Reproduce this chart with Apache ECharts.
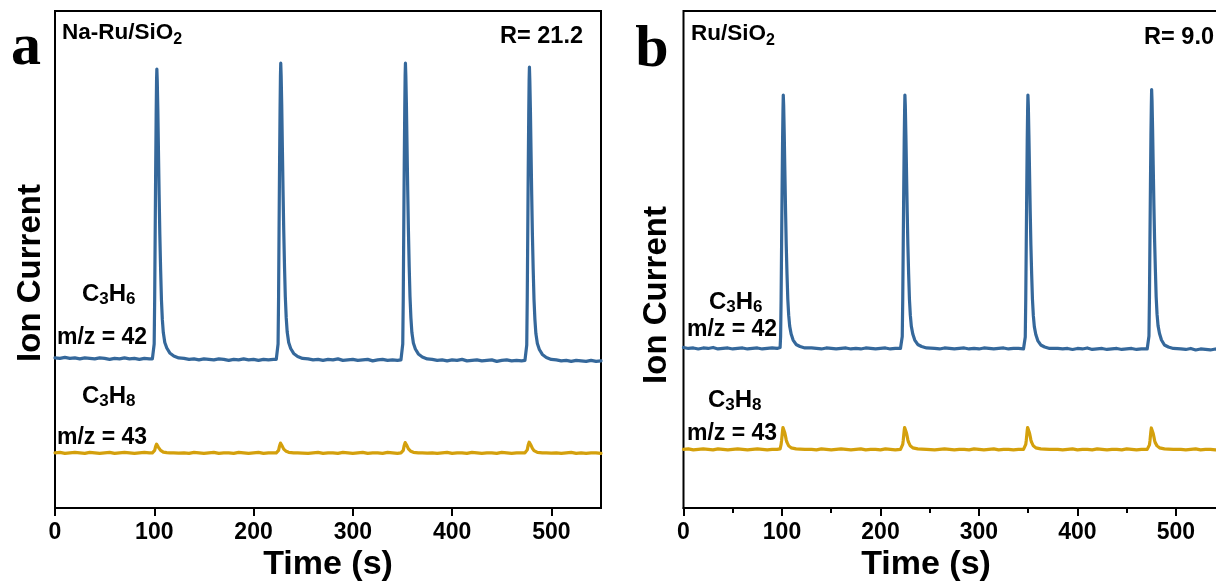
<!DOCTYPE html>
<html>
<head>
<meta charset="utf-8">
<title>Ion current traces</title>
<script src="https://cdn.jsdelivr.net/npm/echarts@6/dist/echarts.min.js"></script>
<style>
  html, body { margin: 0; padding: 0; background: #fff; }
  #chart { width: 1216px; height: 585px; }
</style>
</head>
<body>
<div id="chart"></div>
<script>
// ---- Data -------------------------------------------------------------
// Time axis tick labels (s)
const timeTicks = [0, 100, 200, 300, 400, 500];
const minorTimeTicksB = [0, 50, 100, 150, 200, 250, 300, 350, 400, 450, 500, 550];

// Panel a: Na-Ru/SiO2 — sample times (s)
const timeA = [
  0, 5, 10, 15, 20, 25, 30, 35, 40, 45, 50, 55, 60, 65, 70, 75, 80, 85, 90, 95,
  98.1, 99.4, 99.9, 100.4, 100.9, 101.4, 101.9, 102.3, 102.6, 103.0, 103.6, 104.2, 104.9, 105.6, 106.4, 107.2, 108.1, 109.1, 110.6, 112.6, 115.6, 119.6, 124.6,
  130, 135, 140, 145, 150, 155, 160, 165, 170, 175, 180, 185, 190, 195, 200, 205, 210, 215, 220,
  222.9, 224.2, 224.7, 225.2, 225.7, 226.2, 226.7, 227.1, 227.4, 227.8, 228.4, 229.0, 229.7, 230.4, 231.2, 232.0, 232.9, 233.9, 235.4, 237.4, 240.4, 244.4, 249.4,
  255, 260, 265, 270, 275, 280, 285, 290, 295, 300, 305, 310, 315, 320, 325, 330, 335, 340, 345,
  348.5, 349.8, 350.3, 350.8, 351.3, 351.8, 352.3, 352.7, 353.0, 353.4, 354.0, 354.6, 355.3, 356.0, 356.8, 357.6, 358.5, 359.5, 361.0, 363.0, 366.0, 370.0, 375.0,
  380, 385, 390, 395, 400, 405, 410, 415, 420, 425, 430, 435, 440, 445, 450, 455, 460, 465, 470,
  473.4, 474.7, 475.2, 475.7, 476.2, 476.7, 477.2, 477.6, 477.9, 478.3, 478.9, 479.5, 480.2, 480.9, 481.7, 482.5, 483.4, 484.4, 485.9, 487.9, 490.9, 494.9, 499.9,
  505, 510, 515, 520, 525, 530, 535, 540, 545, 550
];
// C3H6, m/z = 42 (a.u.)
const propyleneA = [
  30.2, 30.1, 30.3, 30.1, 30.2, 30.0, 30.2, 30.1, 30.0, 30.2, 30.1, 29.9, 30.1, 30.0, 30.2, 30.0, 30.1, 29.9, 30.1, 30.0,
  30.0, 30.2, 33, 42, 55, 68, 79, 86, 88.3, 86, 80, 72, 63, 55, 48, 42, 38, 35.3, 33.3, 32.2, 31.2, 30.6, 30.2,
  30.1, 29.9, 30.0, 29.8, 30.0, 29.9, 29.8, 30.0, 29.9, 29.7, 29.9, 29.8, 30.0, 29.8, 29.9, 29.7, 29.9, 29.8, 29.9,
  29.9, 30.1, 33, 42, 56, 69, 80, 87, 89.5, 87, 81, 73, 64, 56, 48.5, 42.5, 38.3, 35.4, 33.3, 32.1, 31.1, 30.5, 30.1,
  30.0, 29.8, 29.9, 29.7, 29.9, 29.8, 30.0, 29.7, 29.8, 29.9, 29.7, 29.8, 29.9, 29.6, 29.8, 29.9, 29.7, 29.8, 29.7,
  29.8, 30.0, 33, 42, 56, 69, 80, 87, 89.5, 87, 81, 73, 64, 56, 48.5, 42.5, 38.3, 35.3, 33.2, 32.0, 31.0, 30.4, 30.0,
  29.9, 29.7, 29.8, 29.6, 29.8, 29.7, 29.9, 29.6, 29.7, 29.8, 29.6, 29.7, 29.8, 29.5, 29.7, 29.8, 29.6, 29.7, 29.6,
  29.7, 29.9, 32.8, 42, 55, 68, 79, 86, 88.7, 86, 80, 72, 63, 55, 48, 42, 38, 35.1, 33.1, 31.9, 30.9, 30.3, 29.9,
  29.8, 29.6, 29.7, 29.5, 29.7, 29.6, 29.5, 29.7, 29.5, 29.6
];
// C3H8, m/z = 43 (a.u.)
const propaneA = [
  11.1, 11.2, 11.0, 11.1, 11.2, 11.1, 11.0, 11.2, 11.1, 11.0, 11.1, 11.2, 11.0, 11.1, 11.2, 11.1, 11.0, 11.1, 11.2, 11.1,
  11.1, 11.2, 11.3, 11.6, 12.0, 12.4, 12.7, 12.85, 12.9, 12.8, 12.5, 12.2, 12.0, 11.8, 11.6, 11.45, 11.35, 11.25, 11.2, 11.15, 11.1, 11.1, 11.05,
  11.1, 11.0, 11.2, 11.1, 11.0, 11.1, 11.2, 11.0, 11.1, 11.1, 11.0, 11.2, 11.1, 11.0, 11.1, 11.2, 11.0, 11.1, 11.1,
  11.1, 11.2, 11.3, 11.6, 12.0, 12.5, 12.9, 13.05, 13.1, 13.0, 12.7, 12.4, 12.1, 11.85, 11.65, 11.5, 11.4, 11.3, 11.2, 11.15, 11.1, 11.1, 11.05,
  11.0, 11.1, 11.2, 11.0, 11.1, 11.1, 11.0, 11.2, 11.1, 11.0, 11.1, 11.2, 11.0, 11.1, 11.1, 11.0, 11.2, 11.1, 11.0,
  11.1, 11.2, 11.3, 11.6, 12.1, 12.6, 13.0, 13.15, 13.2, 13.1, 12.8, 12.5, 12.2, 11.9, 11.7, 11.5, 11.4, 11.3, 11.2, 11.15, 11.1, 11.1, 11.05,
  11.1, 11.0, 11.1, 11.2, 11.0, 11.1, 11.1, 11.0, 11.2, 11.1, 11.0, 11.1, 11.1, 11.0, 11.2, 11.1, 11.0, 11.1, 11.1,
  11.1, 11.2, 11.3, 11.7, 12.2, 12.7, 13.1, 13.25, 13.3, 13.2, 12.9, 12.6, 12.3, 12.0, 11.75, 11.55, 11.4, 11.3, 11.2, 11.15, 11.1, 11.1, 11.05,
  11.1, 11.0, 11.1, 11.2, 11.0, 11.1, 11.0, 11.1, 11.1, 11.0
];

// Panel b: Ru/SiO2 — sample times (s)
const timeB = [
  0, 5, 10, 15, 20, 25, 30, 35, 40, 45, 50, 55, 60, 65, 70, 75, 80, 85, 90, 95,
  96.8, 98.1, 98.6, 99.1, 99.6, 100.1, 100.6, 101.0, 101.3, 101.7, 102.3, 102.9, 103.6, 104.3, 105.1, 105.9, 106.8, 107.8, 109.3, 111.3, 114.3, 118.3, 123.3,
  130, 135, 140, 145, 150, 155, 160, 165, 170, 175, 180, 185, 190, 195, 200, 205, 210, 215,
  220.3, 221.6, 222.1, 222.6, 223.1, 223.6, 224.1, 224.5, 224.8, 225.2, 225.8, 226.4, 227.1, 227.8, 228.6, 229.4, 230.3, 231.3, 232.8, 234.8, 237.8, 241.8, 246.8,
  255, 260, 265, 270, 275, 280, 285, 290, 295, 300, 305, 310, 315, 320, 325, 330, 335, 340,
  345.2, 346.5, 347.0, 347.5, 348.0, 348.5, 349.0, 349.4, 349.7, 350.1, 350.7, 351.3, 352.0, 352.7, 353.5, 354.3, 355.2, 356.2, 357.7, 359.7, 362.7, 366.7, 371.7,
  380, 385, 390, 395, 400, 405, 410, 415, 420, 425, 430, 435, 440, 445, 450, 455, 460, 465,
  470.8, 472.1, 472.6, 473.1, 473.6, 474.1, 474.6, 475.0, 475.3, 475.7, 476.3, 476.9, 477.6, 478.3, 479.1, 479.9, 480.8, 481.8, 483.3, 485.3, 488.3, 492.3, 497.3,
  505, 510, 515, 520, 525, 530, 535, 540, 545, 550
];
const propyleneB = [
  32.3, 32.1, 32.2, 32.0, 32.2, 32.1, 32.3, 32.0, 32.1, 32.2, 32.0, 32.1, 32.2, 32.0, 32.1, 32.2, 32.0, 32.1, 32.2, 32.1,
  32.1, 32.3, 34.5, 42, 53, 64, 74, 80, 83.1, 81, 75, 68, 60, 53, 47, 42, 38.8, 36.6, 35.0, 33.8, 32.9, 32.5, 32.2,
  32.2, 32.1, 32.0, 32.2, 32.1, 32.0, 32.1, 32.2, 32.0, 32.1, 32.0, 32.2, 32.1, 32.0, 32.1, 32.2, 32.0, 32.1,
  32.1, 32.3, 34.5, 42, 53, 64, 74, 80, 83.1, 81, 75, 68, 60, 53, 47, 42, 38.8, 36.6, 35.0, 33.8, 32.9, 32.5, 32.2,
  32.1, 32.0, 32.2, 32.1, 32.0, 32.1, 32.2, 32.0, 32.1, 32.0, 32.2, 32.1, 32.0, 32.1, 32.2, 32.0, 32.1, 32.1,
  32.0, 32.2, 34.4, 42, 53, 64, 74, 80, 83.1, 81, 75, 68, 60, 53, 47, 42, 38.7, 36.5, 34.9, 33.7, 32.8, 32.4, 32.1,
  32.1, 32.0, 32.1, 31.9, 32.1, 32.0, 32.2, 31.9, 32.0, 32.1, 31.9, 32.0, 32.1, 31.9, 32.0, 32.1, 31.9, 32.0,
  32.0, 32.2, 34.6, 42.5, 54, 65, 75, 81, 84.2, 82, 76, 69, 61, 54, 48, 42.5, 39.0, 36.7, 35.1, 33.8, 32.8, 32.4, 32.1,
  32.0, 31.9, 32.1, 31.8, 32.0, 31.9, 31.8, 32.0, 31.8, 31.9
];
const propaneB = [
  11.8, 11.9, 11.7, 11.8, 11.9, 11.8, 11.7, 11.9, 11.8, 11.7, 11.8, 11.9, 11.8, 11.7, 11.8, 11.9, 11.8, 11.7, 11.8, 11.8,
  11.8, 11.9, 12.2, 12.8, 13.6, 14.6, 15.6, 16.2, 16.5, 16.3, 15.8, 15.1, 14.4, 13.7, 13.2, 12.8, 12.5, 12.3, 12.1, 12.0, 11.9, 11.85, 11.8,
  11.8, 11.7, 11.9, 11.8, 11.7, 11.8, 11.9, 11.8, 11.7, 11.8, 11.9, 11.7, 11.8, 11.8, 11.7, 11.9, 11.8, 11.7,
  11.8, 11.9, 12.2, 12.8, 13.6, 14.6, 15.6, 16.2, 16.5, 16.3, 15.8, 15.1, 14.4, 13.7, 13.2, 12.8, 12.5, 12.3, 12.1, 12.0, 11.9, 11.85, 11.8,
  11.7, 11.8, 11.9, 11.8, 11.7, 11.8, 11.8, 11.7, 11.9, 11.8, 11.7, 11.8, 11.9, 11.7, 11.8, 11.8, 11.7, 11.8,
  11.8, 11.9, 12.2, 12.8, 13.6, 14.6, 15.6, 16.2, 16.5, 16.3, 15.8, 15.1, 14.4, 13.7, 13.2, 12.8, 12.5, 12.3, 12.1, 12.0, 11.9, 11.85, 11.8,
  11.8, 11.7, 11.8, 11.9, 11.7, 11.8, 11.8, 11.7, 11.9, 11.8, 11.7, 11.8, 11.8, 11.7, 11.9, 11.8, 11.7, 11.8,
  11.8, 11.9, 12.2, 12.7, 13.5, 14.5, 15.5, 16.1, 16.4, 16.2, 15.7, 15.0, 14.3, 13.6, 13.1, 12.7, 12.5, 12.3, 12.1, 12.0, 11.9, 11.85, 11.8,
  11.8, 11.7, 11.8, 11.9, 11.7, 11.8, 11.8, 11.7, 11.8, 11.8
];

// ---- Styling ----------------------------------------------------------
const SANS = '"Liberation Sans", Arial, Helvetica, sans-serif';
const SERIF = '"Liberation Serif", "Times New Roman", serif';
const BLUE = '#35689b';
const GOLD = '#d4a00c';

// plot areas (px)
const gridA = { left: 55, top: 11, width: 546, height: 497 };
const gridB = { left: 683.5, top: 11, width: 541.7, height: 497 };

function pairs(t, v) { return t.map((x, i) => [x, v[i]]); }

function gridOf(g, border) {
  return Object.assign({
    show: border, borderColor: '#000', borderWidth: 2, backgroundColor: 'transparent',
    containLabel: false, outerBoundsMode: 'none'
  }, g);
}

function mainXAxis(gridIndex) {
  return {
    gridIndex, type: 'value', position: 'bottom', min: 0, max: 550, interval: 100,
    axisLine: { show: true, onZero: false, lineStyle: { color: '#000', width: 2 } },
    axisTick: { show: true, inside: false, length: 8, customValues: timeTicks, lineStyle: { color: '#000', width: 2 } },
    axisLabel: {
      customValues: timeTicks, color: '#000', fontFamily: SANS, fontWeight: 'bold',
      fontSize: 23, margin: 13
    },
    splitLine: { show: false }
  };
}

function hiddenY(gridIndex) {
  return {
    gridIndex, type: 'value', min: 0, max: 100,
    axisLine: { show: false }, axisTick: { show: false }, axisLabel: { show: false },
    splitLine: { show: false }
  };
}

function trace(axisIndex, t, v, color) {
  return {
    type: 'line', xAxisIndex: axisIndex, yAxisIndex: axisIndex,
    data: pairs(t, v), showSymbol: false, symbol: 'none', smooth: false,
    lineStyle: { color, width: 3.2, join: 'round', cap: 'round' }, itemStyle: { color }, silent: true, z: 3
  };
}

function plainText(x, y, text, size, extra) {
  return {
    type: 'text', x, y, z: 10,
    style: Object.assign({
      text, fontFamily: SANS, fontWeight: 'bold', fontSize: size, fill: '#000',
      align: 'left', verticalAlign: 'middle'
    }, extra || {})
  };
}

// Formula with lowered subscripts, laid out piece by piece.
const measureCtx = document.createElement('canvas').getContext('2d');
function formula(x, y, parts, size, subSize, drop) {
  const children = [];
  let cx = 0;
  parts.forEach(function (p) {
    const txt = p[0], isSub = p[1];
    const fs = isSub ? subSize : size;
    measureCtx.font = 'bold ' + fs + 'px ' + SANS;
    children.push({
      type: 'text', x: cx, y: isSub ? 0.35 * (size - subSize) + drop : 0,
      style: { text: txt, fontFamily: SANS, fontWeight: 'bold', fontSize: fs, fill: '#000', align: 'left', verticalAlign: 'middle' }
    });
    cx += measureCtx.measureText(txt).width;
  });
  return { type: 'group', x, y, z: 10, children };
}

const graphics = [
  // panel letters
  { type: 'text', x: 26, y: 48, z: 10, style: { text: 'a', fontFamily: SERIF, fontWeight: 'bold', fontSize: 60, fill: '#000', align: 'center', verticalAlign: 'middle' } },
  { type: 'text', x: 652, y: 50, z: 10, style: { text: 'b', fontFamily: SERIF, fontWeight: 'bold', fontSize: 60, fill: '#000', align: 'center', verticalAlign: 'middle' } },
  // catalyst names and ratios
  formula(62, 33, [['Na-Ru/SiO', false], ['2', true]], 22.5, 16, 4),
  plainText(583, 37, 'R= 21.2', 23.5, { align: 'right' }),
  formula(691, 34, [['Ru/SiO', false], ['2', true]], 22.5, 16, 4),
  plainText(1214, 38, 'R= 9.0', 23.5, { align: 'right' }),
  // trace labels, panel a
  formula(82, 294, [['C', false], ['3', true], ['H', false], ['6', true]], 24, 17, 3),
  plainText(57, 338, 'm/z = 42', 23),
  formula(82, 396, [['C', false], ['3', true], ['H', false], ['8', true]], 24, 17, 3),
  plainText(57, 438, 'm/z = 43', 23),
  // trace labels, panel b
  formula(709, 302, [['C', false], ['3', true], ['H', false], ['6', true]], 24, 17, 3),
  plainText(687, 330, 'm/z = 42', 23),
  formula(708, 400, [['C', false], ['3', true], ['H', false], ['8', true]], 24, 17, 3),
  plainText(687, 434, 'm/z = 43', 23),
  // axis titles
  Object.assign(plainText(31, 273, 'Ion Current', 33, { align: 'center' }), { rotation: Math.PI / 2 }),
  Object.assign(plainText(657, 295, 'Ion Current', 33, { align: 'center' }), { rotation: Math.PI / 2 }),
  plainText(328, 565, 'Time (s)', 34, { align: 'center' }),
  plainText(926, 565, 'Time (s)', 34, { align: 'center' })
];

const option = {
  animation: false,
  backgroundColor: '#fff',
  grid: [gridOf(gridA, true), gridOf(gridB, true), gridOf(gridB, false)],
  xAxis: [
    mainXAxis(0),
    mainXAxis(1),
    // minor 50 s ticks on panel b
    {
      gridIndex: 2, type: 'value', position: 'bottom', min: 0, max: 550, interval: 50,
      axisLine: { show: false },
      axisTick: { show: true, inside: false, length: 5, customValues: minorTimeTicksB, lineStyle: { color: '#000', width: 2 } },
      axisLabel: { show: false }, splitLine: { show: false }
    }
  ],
  yAxis: [hiddenY(0), hiddenY(1), hiddenY(2)],
  series: [
    trace(0, timeA, propyleneA, BLUE),
    trace(0, timeA, propaneA, GOLD),
    trace(1, timeB, propyleneB, BLUE),
    trace(1, timeB, propaneB, GOLD)
  ],
  graphic: graphics
};

const chart = echarts.init(document.getElementById('chart'), null, { renderer: 'canvas' });
chart.setOption(option);
</script>
</body>
</html>
